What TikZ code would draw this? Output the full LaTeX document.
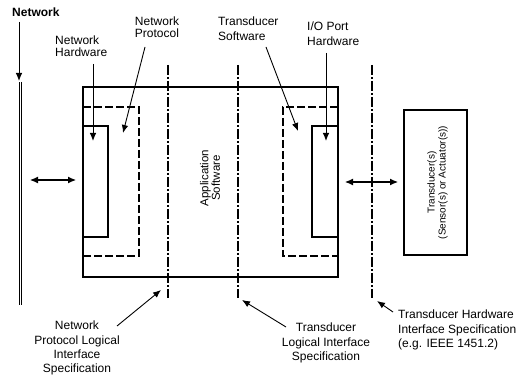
\documentclass[tikz,border=0pt]{standalone}
\usepackage{fontspec}
\setmainfont{Liberation Sans}
\usetikzlibrary{arrows.meta}
\begin{document}
\begin{tikzpicture}[x=1pt,y=-1pt,
  box/.style={draw,line width=1.2pt},
  dashbox/.style={draw,line width=1.1pt,dash pattern=on 8pt off 3pt},
  iface/.style={draw,line width=1.1pt,dash pattern=on 10pt off 2pt on 2pt off 2pt},
  pointer/.style={draw,line width=0.9pt,-{Latex[length=8pt,width=6.5pt]}},
  link/.style={draw,line width=1.1pt,{Latex[length=8pt,width=7pt]}-{Latex[length=8pt,width=7pt]}},
  toplabel/.style={inner sep=0pt,font=\fontsize{12}{12}\selectfont},
  botlabel/.style={inner sep=0pt,font=\fontsize{12}{14.3}\selectfont}]
\useasboundingbox (0,0) rectangle (528,379);

% network medium
\node[inner sep=0pt,font=\fontsize{12}{13}\selectfont\bfseries,anchor=west] (net) at (12,12) {Network};
\coordinate (nettail) at (19,22);
\coordinate (nettip) at (19,81);
\draw[pointer] (nettail) -- (nettip);
\coordinate (bustop) at (20.5,82);
\coordinate (busbot) at (20.5,305);
\draw[line width=0.9pt,double,double distance=1.6pt] (bustop) -- (busbot);

% node processor
\draw[box] (83,87) rectangle (338,277);
\draw[dashbox] (83,107) -- (139,107) -- (139,256) -- (83,256);
\draw[box] (83,126) rectangle (108,237);
\draw[dashbox] (338,107) -- (283,107) -- (283,256) -- (338,256);
\draw[box] (312,126) rectangle (338,237);
\node[rotate=90,inner sep=0pt,align=center,font=\fontsize{11.5}{10}\selectfont] (app) at (210,178) {Application\\Software};

% interface boundaries
\coordinate (ifa1) at (168,65); \coordinate (ifa2) at (168,298);
\coordinate (ifb1) at (238,65); \coordinate (ifb2) at (238,298);
\coordinate (ifc1) at (372,65); \coordinate (ifc2) at (372,298);
\draw[iface] (ifa1) -- (ifa2);
\draw[iface] (ifb1) -- (ifb2);
\draw[iface] (ifc1) -- (ifc2);

% transducer
\node[box,minimum width=63pt,minimum height=145pt,inner sep=0pt] (td) at (435.5,182.5) {};
\node[rotate=90,inner sep=0pt,align=center,font=\fontsize{10}{11}\selectfont] (tdtext) at (437.5,182.5) {Transducer(s)\\(Sensor(s) or Actuator(s))};

% data paths
\coordinate (la) at (30,180); \coordinate (lb) at (76,180);
\draw[link] (la) -- (lb);
\coordinate (ra) at (345,182); \coordinate (rb) at (398,182);
\draw[link] (ra) -- (rb);

% upper labels
\node[toplabel,align=left,anchor=north west] (nhw) at (55,36) {Network\\Hardware};
\coordinate (nhwt) at (93,64); \coordinate (nhwh) at (93,141);
\draw[pointer] (nhwt) -- (nhwh);

\node[toplabel,align=center,anchor=north] (npr) at (157,17) {Network\\Protocol};
\coordinate (nprt) at (145,47); \coordinate (nprh) at (123,133);
\draw[pointer] (nprt) -- (nprh);

\node[botlabel,align=left,anchor=north west] (tsw) at (218,17) {Transducer\\Software};
\coordinate (tswt) at (266,47); \coordinate (tswh) at (298,131);
\draw[pointer] (tswt) -- (tswh);

\node[botlabel,align=left,anchor=north west] (iop) at (307,22) {I/O Port\\Hardware};
\coordinate (iopt) at (326,53); \coordinate (ioph) at (326,141);
\draw[pointer] (iopt) -- (ioph);

% lower labels
\node[botlabel,align=center,anchor=north] (nplis) at (77,321) {Network\\Protocol Logical\\Interface\\Specification};
\coordinate (nplist) at (117,326); \coordinate (nplish) at (161,290);
\draw[pointer] (nplist) -- (nplish);

\node[botlabel,align=center,anchor=north] (tlis) at (326,323) {Transducer\\Logical Interface\\Specification};
\coordinate (tlist) at (286,327); \coordinate (tlish) at (242,300);
\draw[pointer] (tlist) -- (tlish);

\node[botlabel,align=left,anchor=north west] (this) at (398,310) {Transducer Hardware\\Interface Specification\\(e.g. IEEE 1451.2)};
\coordinate (thist) at (393,312); \coordinate (thish) at (377,301);
\draw[pointer] (thist) -- (thish);
\end{tikzpicture}
\end{document}
